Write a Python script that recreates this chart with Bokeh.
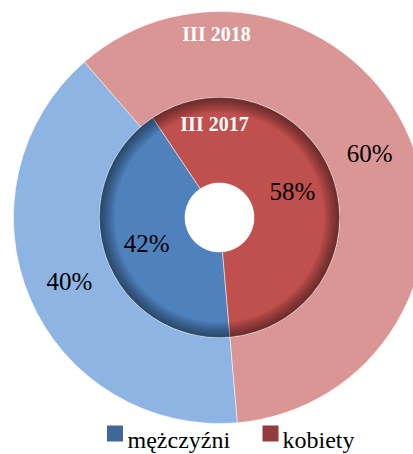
import math
from bokeh.plotting import figure
from bokeh.models import Range1d, ColumnDataSource
from bokeh.core.properties import value
from bokeh.embed import file_html
from bokeh.resources import INLINE

# ---- data ----
categories = ["mężczyźni", "kobiety"]
values_2018 = [40, 60]
values_2017 = [42, 58]
ring_names = ["III 2018", "III 2017"]
colors_2018 = ["#8EB4E3", "#D99694"]
colors_2017 = ["#4F81BD", "#C0504D"]
legend_colors = ["#3F6898", "#923D3B"]

# ---- geometry (picture pixels mapped 1:1 to data units, y up) ----
W, H = 413, 454
cx, cy = 219, H - 217
r_hole, r_mid, r_out = 34.5, 120, 206
first_angle = 175  # degrees clockwise from 12 o'clock

p = figure(width=W, height=H, output_backend="svg", toolbar_location=None,
           x_range=Range1d(0, W), y_range=Range1d(0, H),
           min_border=0, outline_line_color=None)
p.axis.visible = False
p.grid.visible = False
p.background_fill_color = "white"
p.border_fill_color = "white"


def ring(vals, colors, r_in, r_o):
    total = sum(vals)
    starts, ends, mids = [], [], []
    cum = 0.0
    for v in vals:
        a0 = first_angle + cum / total * 360
        cum += v
        a1 = first_angle + cum / total * 360
        starts.append(math.radians(90 - a0))
        ends.append(math.radians(90 - a1))
        mids.append(math.radians(90 - (a0 + a1) / 2))
    src = ColumnDataSource(dict(x=[cx] * len(vals), y=[cy] * len(vals),
                                s=starts, e=ends, c=colors))
    p.annular_wedge(x="x", y="y", inner_radius=r_in, outer_radius=r_o,
                    start_angle="s", end_angle="e", direction="clock",
                    fill_color="c", line_color="white", line_width=0.5,
                    source=src)
    rm = (r_in + r_o) / 2
    lx = [cx + rm * math.cos(m) for m in mids]
    ly = [cy + rm * math.sin(m) for m in mids]
    labels = [f"{v}%" for v in vals]
    p.text(x=lx, y=ly, text=labels, text_font=value("Liberation Serif"),
           text_font_size="25px", text_color="black",
           text_align="center", text_baseline="middle")


ring(values_2018, colors_2018, r_mid, r_out)
ring(values_2017, colors_2017, r_hole, r_mid)

# inner shadow on the inner ring (towards its outer edge)
steps = 10
for i in range(steps):
    r0 = r_mid - 15 + i * 15 / steps
    p.annulus(x=cx, y=cy, inner_radius=r0, outer_radius=r_mid,
              fill_color="black", fill_alpha=0.05, line_color=None)

# white hole
p.circle(x=cx, y=cy, radius=r_hole, fill_color="white", line_color=None)

# series names
p.text(x=[cx - 3, cx - 5], y=[H - 33, H - 123], text=ring_names,
       text_font=value("Liberation Serif"), text_font_style="bold",
       text_font_size="20px", text_color="white",
       text_align="center", text_baseline="middle")

# legend
leg_sq_x = [114.5, 270]
leg_txt_x = [127, 282]
sq_y = H - 433
txt_y = H - 439
p.rect(x=leg_sq_x, y=[sq_y] * 2, width=16, height=16,
       fill_color=legend_colors, line_color=None)
p.text(x=leg_txt_x, y=[txt_y] * 2, text=categories,
       text_font=value("Liberation Serif"), text_font_size="24px",
       text_color="black", text_align="left", text_baseline="alphabetic")

open("out.html", "w").write(file_html(p, INLINE))
